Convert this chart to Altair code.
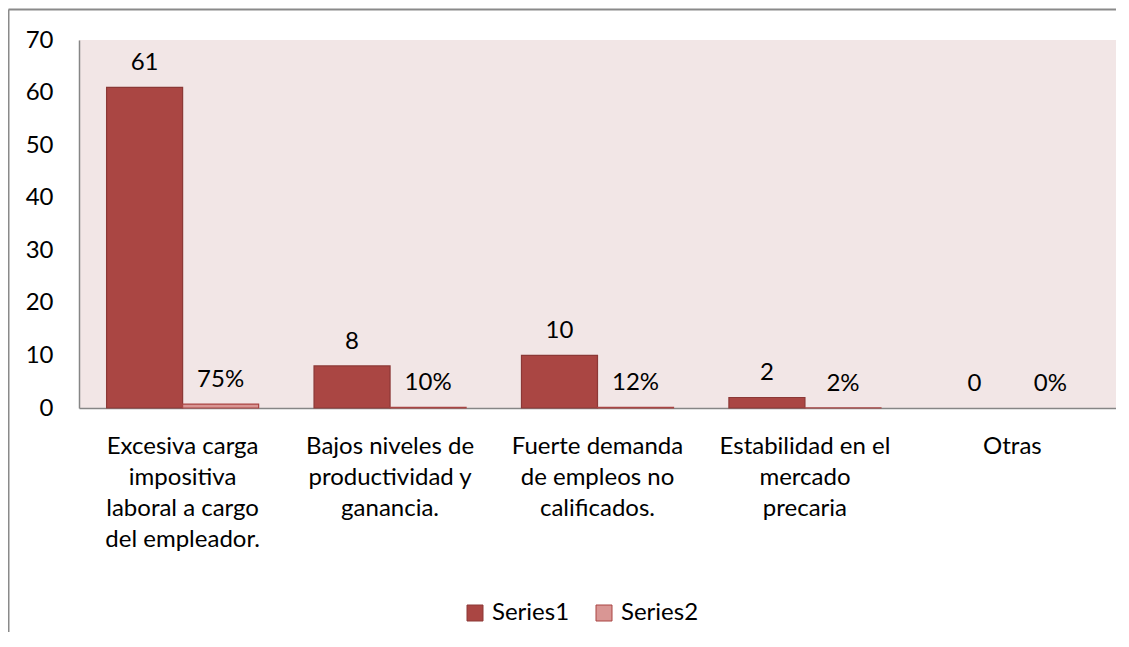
import altair as alt
import pandas as pd

categories = [
    "Excesiva carga\nimpositiva\nlaboral a cargo\ndel empleador.",
    "Bajos niveles de\nproductividad y\nganancia.",
    "Fuerte demanda\nde empleos no\ncalificados.",
    "Estabilidad en el\nmercado\nprecaria",
    "Otras",
]
series_names = ["Series1", "Series2"]
series1 = [61, 8, 10, 2, 0]
series2 = [0.75, 0.10, 0.12, 0.02, 0.0]
labels1 = ["61", "8", "10", "2", "0"]
labels2 = ["75%", "10%", "12%", "2%", "0%"]
y_ticks = [0, 10, 20, 30, 40, 50, 60, 70]

rows = []
for c, v, l in zip(categories, series1, labels1):
    rows.append({"cat": c, "series": "Series1", "value": v, "label": l})
for c, v, l in zip(categories, series2, labels2):
    rows.append({"cat": c, "series": "Series2", "value": v, "label": l})
df = pd.DataFrame(rows)

FONT = "Lato"
FS = 24

x_enc = alt.X(
    "cat:N",
    sort=categories,
    title=None,
    scale=alt.Scale(paddingInner=0.267, paddingOuter=0.133),
    axis=alt.Axis(
        labelExpr="split(datum.label, '\\n')",
        labelAngle=0,
        labelFontSize=FS,
        labelFont=FONT,
        labelColor="black",
        labelLineHeight=31,
        labelPadding=26,
        labelBaseline="top",
        ticks=False,
        domainColor="#868686",
        domainWidth=1.5,
        labelLimit=300,
    ),
)
xoff = alt.XOffset("series:N", sort=series_names,
                   scale=alt.Scale(paddingInner=0, paddingOuter=0))
y_enc = alt.Y(
    "value:Q",
    title=None,
    scale=alt.Scale(domain=[0, 70], nice=False),
    axis=alt.Axis(
        values=y_ticks,
        labelFontSize=FS,
        labelFont=FONT,
        labelColor="black",
        labelPadding=26,
        ticks=False,
        grid=False,
        domainColor="#868686",
        domainWidth=1.5,
    ),
)

base = alt.Chart(df).encode(x=x_enc, xOffset=xoff, y=y_enc)

bars = base.mark_bar(strokeWidth=1.2).encode(
    color=alt.Color(
        "series:N",
        sort=series_names,
        scale=alt.Scale(domain=series_names, range=["#AA4643", "#D99694"]),
        legend=alt.Legend(
            title=None,
            orient="none",
            legendX=384,
            legendY=561,
            direction="horizontal",
            symbolType="square",
            symbolSize=256,
            symbolStrokeColor="#8C3836",
            symbolStrokeWidth=1,
            labelFontSize=FS,
            labelFont=FONT,
            labelColor="black",
            columnPadding=22,
            labelOffset=5,
        ),
    ),
    stroke=alt.Stroke(
        "series:N",
        scale=alt.Scale(domain=series_names, range=["#8C3836", "#A94543"]),
        legend=None,
    ),
    strokeOpacity=alt.condition("datum.value > 0", alt.value(1), alt.value(0)),
)

texts = base.mark_text(
    baseline="alphabetic", dy=-17, fontSize=FS, font=FONT, color="black"
).encode(text="label:N")

frame_top = alt.Chart(pd.DataFrame({"a": [0]})).mark_rule(
    color="#8A8A8A", strokeWidth=2
).encode(x=alt.value(-70.5), x2=alt.value(1037), y=alt.value(-30.5),
         y2=alt.value(-30.5))
frame_left = alt.Chart(pd.DataFrame({"a": [0]})).mark_rule(
    color="#8A8A8A", strokeWidth=2
).encode(x=alt.value(-70.5), x2=alt.value(-70.5), y=alt.value(-30.5),
         y2=alt.value(610))

chart = (
    alt.layer(bars, texts, frame_top, frame_left)
    .properties(
        width=1037,
        height=368,
        autosize=alt.AutoSizeParams(type="none"),
        padding={"left": 71, "top": 32, "right": 0, "bottom": 224},
        background="white",
    )
    .configure_view(fill="#F2E6E6", stroke=None)
)

chart.save("out.html", embed_options={"renderer": "svg", "actions": False})
